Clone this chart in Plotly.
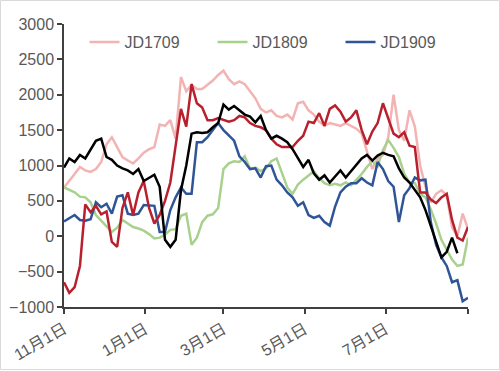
import pandas as pd
import plotly.graph_objects as go

# dates every 4 days from 1 Nov to 1 Sep
dates = pd.date_range("2018-11-01", "2019-09-01", freq="4D")

jd1709 = [690, 780, 880, 980, 930, 910, 950, 1050, 1300, 1400, 1270, 1120, 1070, 1030, 1100, 1180,
          1230, 1260, 1580, 1560, 1640, 1380, 2250, 2050, 2140, 2080, 2080, 2140, 2200, 2280, 2340,
          2220, 2150, 2190, 2150, 2050, 1950, 1800, 1750, 1780, 1700, 1680, 1720, 1650, 1880, 1900,
          1780, 1720, 1620, 1560, 1600, 1580, 1560, 1600, 1560, 1520, 1450, 1200, 950, 1100, 1150,
          1400, 2000, 1500, 1350, 1780, 1550, 1000, 700, 480, 600, 650, 580, 130, 0, 320, 100]

jd1809 = [690, 660, 620, 560, 550, 480, 300, 220, 140, 60, 120, 230, 180, 130, 110, 80,
          30, -30, -20, 20, 90, 100, 290, 320, -120, -20, 200, 290, 310, 400, 950,
          1030, 1060, 1050, 1130, 950, 970, 920, 960, 1060, 1100, 900, 690, 600, 730, 800,
          860, 920, 820, 750, 720, 740, 720, 760, 720, 800, 880, 980, 1060, 990, 1220,
          1360, 1250, 1120, 880, 760, 750, 600, 550, 380, 180, -50, -200, -330, -420, -400, -20]

jd1909 = [210, 250, 300, 230, 220, 240, 480, 410, 460, 320, 560, 580, 320, 300, 320, 440,
          440, 430, 60, 60, 370, 550, 690, 600, 600, 1330, 1330, 1400, 1500, 1600, 1500,
          1420, 1350, 1130, 1050, 950, 960, 830, 990, 1000, 800, 720, 620, 550, 430, 480,
          300, 260, 290, 200, 150, 420, 620, 700, 750, 750, 820, 760, 720, 1050, 950,
          780, 700, 200, 580, 680, 830, 790, 800, 200, -120, -300, -420, -650, -620, -920, -870]

red_series = [-650, -800, -720, -420, 450, 340, 430, 310, 350, -80, -150, 400, 620, 300, 620, 780,
              400, 180, 300, 500, 760, 1300, 1800, 1550, 2150, 1880, 1820, 1640, 1640, 1670, 1640,
              1620, 1640, 1700, 1680, 1600, 1560, 1540, 1500, 1380, 1300, 1260, 1260, 1260, 1350, 1420,
              1620, 1600, 1740, 1560, 1800, 1850, 1760, 1620, 1680, 1780, 1500, 1300, 1480, 1600, 1880,
              1680, 1450, 1400, 1470, 1280, 1260, 620, 620, 520, 470, 550, 600, 230, -20, -60, 130]

black_series = [970, 1100, 1050, 1150, 1100, 1220, 1350, 1380, 1120, 1080, 1000, 960, 930, 880, 950, 780,
                830, 870, 700, -50, -150, -50, 650, 1000, 1450, 1470, 1460, 1470, 1540, 1600, 1860,
                1790, 1840, 1780, 1720, 1690, 1610, 1700, 1500, 1380, 1420, 1380, 1330, 1230, 1100, 980,
                1080, 890, 800, 860, 760, 850, 930, 830, 920, 1000, 1100, 1150, 1070, 1140, 1180,
                1150, 1130, 960, 830, 760, 650, 550, 370, 150, -100, -300, -220, -20, -240, None, None]

tick_dates = ["2018-11-01", "2019-01-01", "2019-03-01", "2019-05-01", "2019-07-01", "2019-09-01"]
tick_labels = ["11月1日", "1月1日", "3月1日", "5月1日", "7月1日", ""]
y_ticks = [-1000, -500, 0, 500, 1000, 1500, 2000, 2500, 3000]

FONT = "Liberation Sans, Arial, Noto Sans CJK SC, sans-serif"
GREY = "#595959"

fig = go.Figure()
fig.add_trace(go.Scatter(x=dates, y=jd1709, mode="lines", name="JD1709",
                         line=dict(color="#F4B3B3", width=2.5)))
fig.add_trace(go.Scatter(x=dates, y=jd1809, mode="lines", name="JD1809",
                         line=dict(color="#A9D18E", width=2.5)))
fig.add_trace(go.Scatter(x=dates, y=jd1909, mode="lines", name="JD1909",
                         line=dict(color="#2F5597", width=2.5)))
fig.add_trace(go.Scatter(x=dates, y=red_series, mode="lines", name="red", showlegend=False,
                         line=dict(color="#B8202E", width=2.5)))
fig.add_trace(go.Scatter(x=dates, y=black_series, mode="lines", name="black", showlegend=False,
                         line=dict(color="#000000", width=2.5)))

fig.update_layout(
    width=500, height=371,
    margin=dict(l=64, r=32, t=24, b=64),
    paper_bgcolor="white", plot_bgcolor="white",
    font=dict(family=FONT, size=16, color=GREY),
    showlegend=True,
    legend=dict(orientation="h", x=0.526, xanchor="center", y=0.936, yanchor="middle",
                font=dict(size=16, color=GREY), bgcolor="rgba(0,0,0,0)",
                entrywidth=83, entrywidthmode="pixels"),
    shapes=[dict(type="rect", xref="paper", yref="paper",
                 x0=-0.1572, x1=1.078, y0=-0.2208, y1=1.083,
                 line=dict(color="#D9D9D9", width=1))],
)
fig.update_xaxes(range=["2018-11-01", "2019-09-01"], tickvals=tick_dates, ticktext=tick_labels,
                 tickangle=-30, showgrid=False, zeroline=False, showline=True, automargin=False,
                 linecolor="#404040", linewidth=1.5, ticks="outside", ticklen=5,
                 tickcolor="#404040", tickwidth=1.5, tickfont=dict(size=16, color=GREY))
fig.update_yaxes(range=[-1000, 3000], tickvals=y_ticks, showgrid=False, zeroline=False,
                 showline=True, automargin=False, linecolor="#404040", linewidth=1.5,
                 ticks="outside", ticklen=5,
                 tickcolor="#404040", tickwidth=1.5, tickfont=dict(size=16, color=GREY))

fig.write_html("out.html", config={"displayModeBar": False},
               post_script="document.body.style.margin='0';document.body.style.overflow='hidden';")
